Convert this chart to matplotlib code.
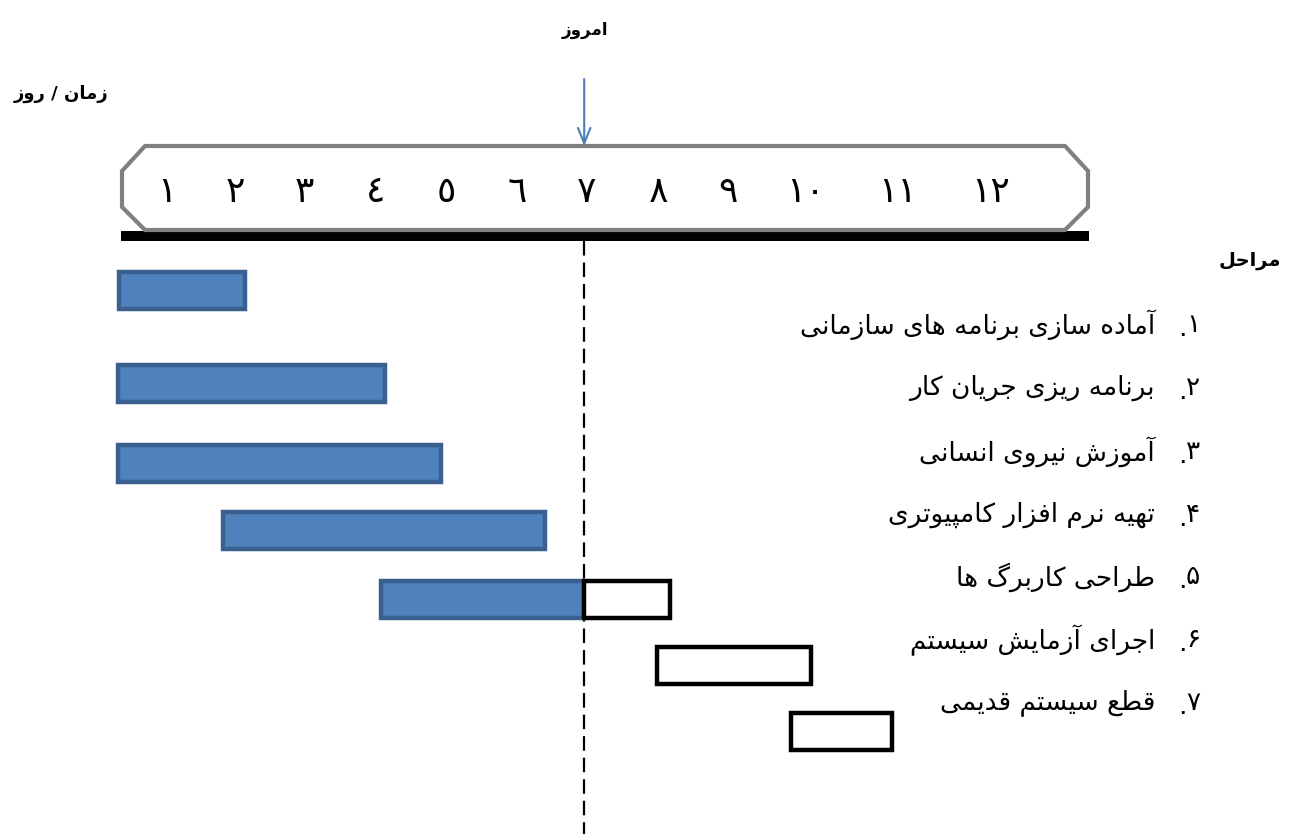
import matplotlib
matplotlib.use("Agg")
import matplotlib.pyplot as plt
from matplotlib.patches import Polygon, Rectangle
from matplotlib.transforms import Affine2D

plt.rcParams['lines.scale_dashes'] = False

# ---------------- data ----------------
tasks = [
    "آماده سازی برنامه های سازمانی",
    "برنامه ریزی جریان کار",
    "آموزش نیروی انسانی",
    "تهیه نرم افزار کامپیوتری",
    "طراحی کاربرگ ها",
    "اجرای آزمایش سیستم",
    "قطع سیستم قدیمی",
]
task_numbers = ["۱", "۲", "۳", "۴", "۵", "۶", "۷"]
task_start = [0.33, 0.31, 0.31, 1.82, 4.08, 8.04, 9.97]
task_end = [2.13, 4.14, 4.95, 6.44, 8.23, 10.25, 11.42]
task_done_until = [2.13, 4.14, 4.95, 6.44, 7.00, None, None]
today = 7
day_labels = ["١", "٢", "٣", "٤", "٥", "٦", "٧", "٨", "٩", "١٠", "١١", "١٢"]

title_today = "امروز"
title_time = "زمان / روز"
title_phases = "مراحل"

# ---------------- layout (pixels) ----------------
W, H = 1289, 834
PX0, PXD = 166.0, 69.7          # pixel of day 1, pixels per day
day_label_pos = [1.01, 1.99, 2.99, 4.01, 5.02, 6.04, 7.04, 8.06, 9.06,
                 10.17, 11.50, 12.83]
bar_rows = [290.5, 383.5, 463, 530.5, 599, 665, 731]
bar_h = 37
text_rows = [325, 388, 452, 515, 577, 640, 703]


def px2day(px):
    return (px - PX0) / PXD + 1


# ---------------- Arabic / Persian shaping ----------------
FORMS = {
    # isolated, final, initial, medial
    'ا': (0xFE8D, 0xFE8E, None, None), 'آ': (0xFE81, 0xFE82, None, None),
    'د': (0xFEA9, 0xFEAA, None, None), 'ذ': (0xFEAB, 0xFEAC, None, None),
    'ر': (0xFEAD, 0xFEAE, None, None), 'ز': (0xFEAF, 0xFEB0, None, None),
    'ژ': (0xFB8A, 0xFB8B, None, None), 'و': (0xFEED, 0xFEEE, None, None),
    'ب': (0xFE8F, 0xFE90, 0xFE91, 0xFE92), 'پ': (0xFB56, 0xFB57, 0xFB58, 0xFB59),
    'ت': (0xFE95, 0xFE96, 0xFE97, 0xFE98), 'ث': (0xFE99, 0xFE9A, 0xFE9B, 0xFE9C),
    'ج': (0xFE9D, 0xFE9E, 0xFE9F, 0xFEA0), 'چ': (0xFB7A, 0xFB7B, 0xFB7C, 0xFB7D),
    'ح': (0xFEA1, 0xFEA2, 0xFEA3, 0xFEA4), 'خ': (0xFEA5, 0xFEA6, 0xFEA7, 0xFEA8),
    'س': (0xFEB1, 0xFEB2, 0xFEB3, 0xFEB4), 'ش': (0xFEB5, 0xFEB6, 0xFEB7, 0xFEB8),
    'ص': (0xFEB9, 0xFEBA, 0xFEBB, 0xFEBC), 'ض': (0xFEBD, 0xFEBE, 0xFEBF, 0xFEC0),
    'ط': (0xFEC1, 0xFEC2, 0xFEC3, 0xFEC4), 'ظ': (0xFEC5, 0xFEC6, 0xFEC7, 0xFEC8),
    'ع': (0xFEC9, 0xFECA, 0xFECB, 0xFECC), 'غ': (0xFECD, 0xFECE, 0xFECF, 0xFED0),
    'ف': (0xFED1, 0xFED2, 0xFED3, 0xFED4), 'ق': (0xFED5, 0xFED6, 0xFED7, 0xFED8),
    'ک': (0xFB8E, 0xFB8F, 0xFB90, 0xFB91), 'گ': (0xFB92, 0xFB93, 0xFB94, 0xFB95),
    'ل': (0xFEDD, 0xFEDE, 0xFEDF, 0xFEE0), 'م': (0xFEE1, 0xFEE2, 0xFEE3, 0xFEE4),
    'ن': (0xFEE5, 0xFEE6, 0xFEE7, 0xFEE8), 'ه': (0xFEE9, 0xFEEA, 0xFEEB, 0xFEEC),
    'ی': (0xFBFC, 0xFBFD, 0xFBFE, 0xFBFF),
}


def shape(s):
    out = []
    n = len(s)
    for i, c in enumerate(s):
        if c not in FORMS:
            out.append(c)
            continue
        f = FORMS[c]
        prev = s[i - 1] if i > 0 else None
        nxt = s[i + 1] if i + 1 < n else None
        join_prev = prev in FORMS and FORMS[prev][2] is not None
        join_next = f[2] is not None and nxt in FORMS
        if join_prev and join_next:
            cp = f[3]
        elif join_next:
            cp = f[2]
        elif join_prev:
            cp = f[1]
        else:
            cp = f[0]
        out.append(chr(cp))
    return ''.join(out)


def rtl(s):
    return shape(s)[::-1]


# ---------------- figure ----------------
fig = plt.figure(figsize=(W / 100, H / 100), dpi=100)
ax = fig.add_axes([0, 0, 1, 1])
ax.set_xlim(px2day(0), px2day(W))
ax.set_ylim(H, 0)
ax.axis('off')

pix = Affine2D().scale(1 / W, -1 / H).translate(0, 1) + fig.transFigure

FONT = ['DejaVu Sans']

# header labels
ax.text(585, 30, rtl(title_today), transform=pix, ha='center', va='center',
        fontsize=12, fontweight='bold', family=FONT)
ax.text(14, 94, rtl(title_time), transform=pix, ha='left', va='center',
        fontsize=13, fontweight='bold', family=FONT)
ax.text(1281, 260, rtl(title_phases), transform=pix, ha='right', va='center',
        fontsize=14, fontweight='bold', family=FONT)

# timeline band
ax.add_patch(Rectangle((121, 231), 968, 10, transform=pix, facecolor='black',
                       edgecolor='none', zorder=2))
octo = [(145, 146), (1065, 146), (1088, 171), (1088, 207), (1065, 230),
        (145, 230), (122, 207), (122, 171)]
ax.add_patch(Polygon(octo, closed=True, transform=pix, facecolor='white',
                     edgecolor='#808080', linewidth=3, zorder=3))
for lab, pos in zip(day_labels, day_label_pos):
    ax.text(pos, 192, lab, ha='center', va='center', fontsize=26,
            family=FONT, zorder=4)

# today arrow and dashed line
ax.annotate('', xy=(today, 146), xytext=(today, 79),
            arrowprops=dict(arrowstyle='->,head_length=1.1,head_width=0.45',
                            color='#4A7EBB', lw=1.5, shrinkA=0, shrinkB=0),
            zorder=5)
ax.plot([today, today], [241, H], color='black', lw=1.6,
        dashes=(10.5, 5), zorder=1)

# bars
for i in range(len(tasks)):
    y = bar_rows[i]
    s, e, d = task_start[i], task_end[i], task_done_until[i]
    if d is not None:
        ax.barh(y, d - s, left=s, height=bar_h, color='#4F81BD',
                edgecolor='#3A6090', linewidth=3.2, zorder=3)
        if e > d:
            ax.barh(y, e - d, left=d, height=bar_h, color='white',
                    edgecolor='black', linewidth=3.2, zorder=4)
    else:
        ax.barh(y, e - s, left=s, height=bar_h, color='white',
                edgecolor='black', linewidth=3.2, zorder=4)

# task list
for i, t in enumerate(tasks):
    y = text_rows[i]
    ax.text(1155, y, rtl(t), transform=pix, ha='right', va='center',
            fontsize=19, family=FONT, zorder=6)
    ax.text(1182, y + 4, '.', transform=pix, ha='center', va='center',
            fontsize=19, family=FONT, zorder=6)
    ax.text(1193, y, task_numbers[i], transform=pix, ha='center', va='center',
            fontsize=19, family=FONT, zorder=6)

fig.savefig('out.png', dpi=100, facecolor='white')
